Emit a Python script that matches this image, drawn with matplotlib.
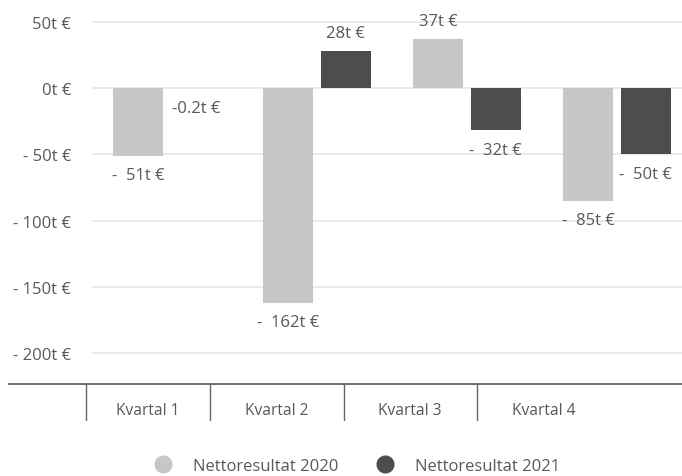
import matplotlib
matplotlib.use("Agg")
import matplotlib.pyplot as plt
from matplotlib.lines import Line2D
import numpy as np

plt.rcParams['font.family'] = ['Open Sans', 'DejaVu Sans']

# data (t €)
quarters = ["Kvartal 1", "Kvartal 2", "Kvartal 3", "Kvartal 4"]
result_2020 = [-51, -162, 37, -85]
result_2021 = [-0.2, 28, -32, -50]
labels_2020 = ["-  51t €", "-  162t €", "37t €", "-  85t €"]
labels_2021 = ["-0.2t €", "28t €", "-  32t €", "-  50t €"]
yticks = [50, 0, -50, -100, -150, -200]
ytick_labels = ["50t €", "0t €", "- 50t €", "- 100t €", "- 150t €", "- 200t €"]
series_names = ["Nettoresultat 2020", "Nettoresultat 2021"]

C_LIGHT = "#c8c7c5"
C_DARK = "#4d4d4d"
TXT = "#595959"
W, H = 682, 477

fig = plt.figure(figsize=(W / 100, H / 100), dpi=100)

# main bar axes (pixel layout from reference)
ax = fig.add_axes([92 / W, (H - 385) / H, (W - 92) / W, 385 / H])
x = np.arange(len(quarters))
bw = 0.333
off = 0.192
b1 = ax.bar(x - off, result_2020, bw, color=C_LIGHT)
b2 = ax.bar(x + off, result_2021, bw, color=C_DARK)

for bars, labs in [(b1, labels_2020), (b2, labels_2021)]:
  for rect, lab in zip(bars, labs):
    v = rect.get_height() if rect.get_y() >= 0 else rect.get_y()
    cx = rect.get_x() + rect.get_width() / 2
    dy = 13 if v > 0 else -14
    ax.annotate(lab, (cx, v), xytext=(0, dy), textcoords="offset points",
                ha="center", va="center", fontsize=12, color=TXT)

ax.set_xlim(-0.5, 3.433)
ax.set_ylim(-223.1, 67.1)
ax.set_yticks(yticks)
ax.set_yticklabels(ytick_labels)
ax.set_xticks([])
ax.tick_params(axis="y", length=0, pad=15, labelsize=12, labelcolor=TXT)
ax.grid(axis="y", color="#e6e6e6", linewidth=1.2)
ax.set_axisbelow(True)
for s in ax.spines.values():
  s.set_visible(False)

# category table below the chart
tab = fig.add_axes([9 / W, (H - 422) / H, (W - 9) / W, 37 / H])
tab.set_xlim(9, W)
tab.set_ylim(0, 1)
tab.axis("off")
tab.axhline(1, color="#555555", linewidth=1.2, clip_on=False)
edges = [86, 210, 343.5, 477, 610.5]
for e in edges[:-1]:
  tab.axvline(e, color="#666666", linewidth=1.0)
for i, q in enumerate(quarters):
  tab.text((edges[i] + edges[i + 1]) / 2, 0.3, q, ha="center", va="center",
           fontsize=11.2, color=TXT)

handles = [Line2D([], [], linestyle="none", marker="o", markersize=12,
                  markerfacecolor=c, markeredgecolor=c) for c in (C_LIGHT, C_DARK)]
fig.legend(handles, series_names, loc="center", bbox_to_anchor=(0.518, 0.022),
           ncol=2, frameon=False, fontsize=12, labelcolor=TXT,
           handletextpad=0.8, columnspacing=1.8)

fig.savefig("out.png", dpi=100)
